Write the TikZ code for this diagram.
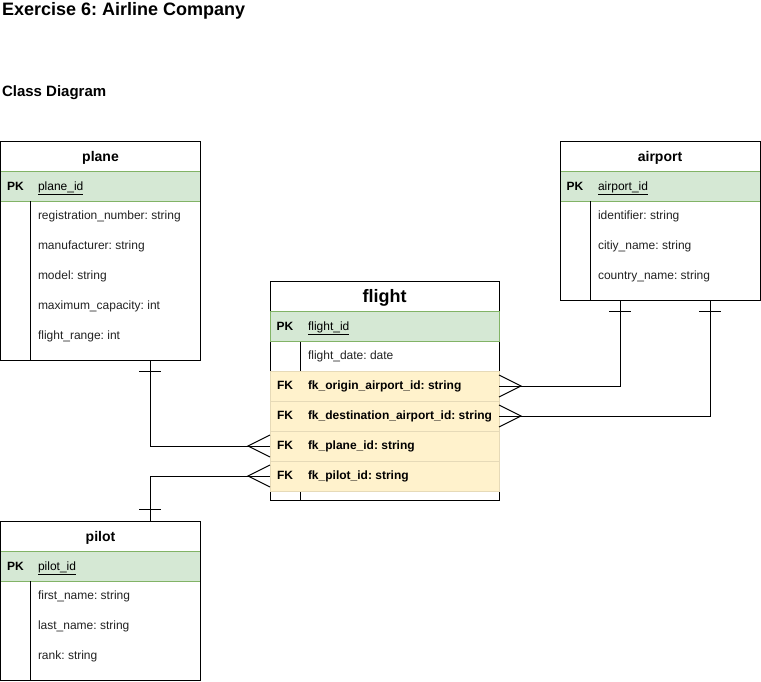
\documentclass[tikz,border=0pt]{standalone}
\usepackage{fontspec}
\setmainfont{Liberation Sans}
\definecolor{pkgreen}{HTML}{D5E8D4}
\definecolor{pkborder}{HTML}{82B366}
\definecolor{fkyellow}{HTML}{FFF2CC}
\definecolor{fkline}{HTML}{E6DAB8}
\definecolor{txt}{HTML}{222222}
\frenchspacing
\begin{document}
\begin{tikzpicture}[x=1pt,y=-1pt,
  every node/.style={inner sep=0pt, outer sep=0pt},
  outline/.style={draw=black, line width=1pt, anchor=north west},
  pkrow/.style={fill=pkgreen, draw=pkborder, line width=1pt, anchor=north west, minimum height=30pt},
  fkrow/.style={fill=fkyellow, draw=fkline, line width=0.6pt, anchor=north west, minimum height=30pt, minimum width=229pt},
  hdr/.style={font=\bfseries\fontsize{14}{16}\selectfont, anchor=base},
  key/.style={font=\bfseries\fontsize{12}{14}\selectfont, anchor=base},
  fld/.style={font=\fontsize{12}{14}\selectfont, anchor=base west, text=txt},
  bfld/.style={font=\bfseries\fontsize{12}{14}\selectfont, anchor=base west},
  divider/.style={draw=black, line width=1pt},
  conn/.style={draw=black, line width=1pt},
]
\useasboundingbox (0,0) rectangle (761,681);

% titles
\node[font=\bfseries\fontsize{18}{20}\selectfont, anchor=base west] (title) at (2,15.7) {Exercise 6: Airline Company};
\node[font=\bfseries\fontsize{15}{17}\selectfont, anchor=base west] (subtitle) at (2,96.7) {Class Diagram};

% ---------- plane ----------
\node[pkrow, minimum width=200pt] (plane-pk) at (0.5,171) {};
\node[outline, minimum width=200pt, minimum height=219pt] (plane) at (0.5,141) {};
\draw[divider] (30.5,201) -- (30.5,360);
\node[hdr] (plane-title) at (100.5,161.7) {plane};
\node[key] (plane-pkl) at (15.5,190) {PK};
\node[fld, text=black] (plane-id) at (38,190) {\underline{plane\_id}};
\node[fld] (plane-f1) at (38,219) {registration\_number: string};
\node[fld] (plane-f2) at (38,249) {manufacturer: string};
\node[fld] (plane-f3) at (38,279) {model: string};
\node[fld] (plane-f4) at (38,309) {maximum\_capacity: int};
\node[fld] (plane-f5) at (38,339) {flight\_range: int};

% ---------- airport ----------
\node[pkrow, minimum width=200pt] (airport-pk) at (560,171) {};
\node[outline, minimum width=200pt, minimum height=159pt] (airport) at (560,141) {};
\draw[divider] (590,201) -- (590,300);
\node[hdr] (airport-title) at (660,161.7) {airport};
\node[key] (airport-pkl) at (575,190) {PK};
\node[fld, text=black] (airport-id) at (598,190) {\underline{airport\_id}};
\node[fld] (airport-f1) at (598,219) {identifier: string};
\node[fld] (airport-f2) at (598,249) {citiy\_name: string};
\node[fld] (airport-f3) at (598,279) {country\_name: string};

% ---------- flight ----------
\node[outline, minimum width=229pt, minimum height=219pt] (flight) at (270,281) {};
\draw[divider] (300,341) -- (300,500);
\node[pkrow, minimum width=229pt] (flight-pk) at (270,311) {};
\node[fkrow] (fk-origin) at (270,371) {};
\node[fkrow] (fk-dest) at (270,401) {};
\node[fkrow] (fk-plane) at (270,431) {};
\node[fkrow] (fk-pilot) at (270,461) {};
\node[font=\bfseries\fontsize{18}{20}\selectfont, anchor=base] (flight-title) at (384.5,302.5) {flight};
\node[key] (flight-pkl) at (285,330) {PK};
\node[fld, text=black] (flight-id) at (308,330) {\underline{flight\_id}};
\node[fld] (flight-f1) at (308,359) {flight\_date: date};
\node[key] (fk1-l) at (285,389) {FK};
\node[bfld] (fk1-t) at (308,389) {fk\_origin\_airport\_id: string};
\node[key] (fk2-l) at (285,419) {FK};
\node[bfld] (fk2-t) at (308,419) {fk\_destination\_airport\_id: string};
\node[key] (fk3-l) at (285,449) {FK};
\node[bfld] (fk3-t) at (308,449) {fk\_plane\_id: string};
\node[key] (fk4-l) at (285,479) {FK};
\node[bfld] (fk4-t) at (308,479) {fk\_pilot\_id: string};

% ---------- pilot ----------
\node[pkrow, minimum width=200pt] (pilot-pk) at (0.5,551) {};
\node[outline, minimum width=200pt, minimum height=159pt] (pilot) at (0.5,521) {};
\draw[divider] (30.5,581) -- (30.5,680);
\node[hdr] (pilot-title) at (100.5,541.7) {pilot};
\node[key] (pilot-pkl) at (15.5,570) {PK};
\node[fld, text=black] (pilot-id) at (38,570) {\underline{pilot\_id}};
\node[fld] (pilot-f1) at (38,599) {first\_name: string};
\node[fld] (pilot-f2) at (38,629) {last\_name: string};
\node[fld] (pilot-f3) at (38,659) {rank: string};

% ---------- connectors ----------
\coordinate (plane-out) at (150,360);
\coordinate (pilot-out) at (150,521);
\coordinate (airport-o1) at (620,300);
\coordinate (airport-o2) at (710,300);

% plane -> flight
\draw[conn] (plane-out) |- (fk-plane.west);
\draw[conn] ([xshift=-11pt,yshift=-11pt]plane-out) -- ([xshift=11pt,yshift=-11pt]plane-out);
\draw[conn] ([yshift=11pt]fk-plane.west) -- ([xshift=-22pt]fk-plane.west) -- ([yshift=-11pt]fk-plane.west);

% pilot -> flight
\draw[conn] (pilot-out) |- (fk-pilot.west);
\draw[conn] ([xshift=-11pt,yshift=12pt]pilot-out) -- ([xshift=11pt,yshift=12pt]pilot-out);
\draw[conn] ([yshift=11pt]fk-pilot.west) -- ([xshift=-22pt]fk-pilot.west) -- ([yshift=-11pt]fk-pilot.west);

% airport -> flight origin
\draw[conn] (airport-o1) |- (fk-origin.east);
\draw[conn] ([xshift=-11pt,yshift=-11pt]airport-o1) -- ([xshift=11pt,yshift=-11pt]airport-o1);
\draw[conn] ([yshift=11pt]fk-origin.east) -- ([xshift=22pt]fk-origin.east) -- ([yshift=-11pt]fk-origin.east);

% airport -> flight destination
\draw[conn] (airport-o2) |- (fk-dest.east);
\draw[conn] ([xshift=-11pt,yshift=-11pt]airport-o2) -- ([xshift=11pt,yshift=-11pt]airport-o2);
\draw[conn] ([yshift=11pt]fk-dest.east) -- ([xshift=22pt]fk-dest.east) -- ([yshift=-11pt]fk-dest.east);
\end{tikzpicture}
\end{document}
